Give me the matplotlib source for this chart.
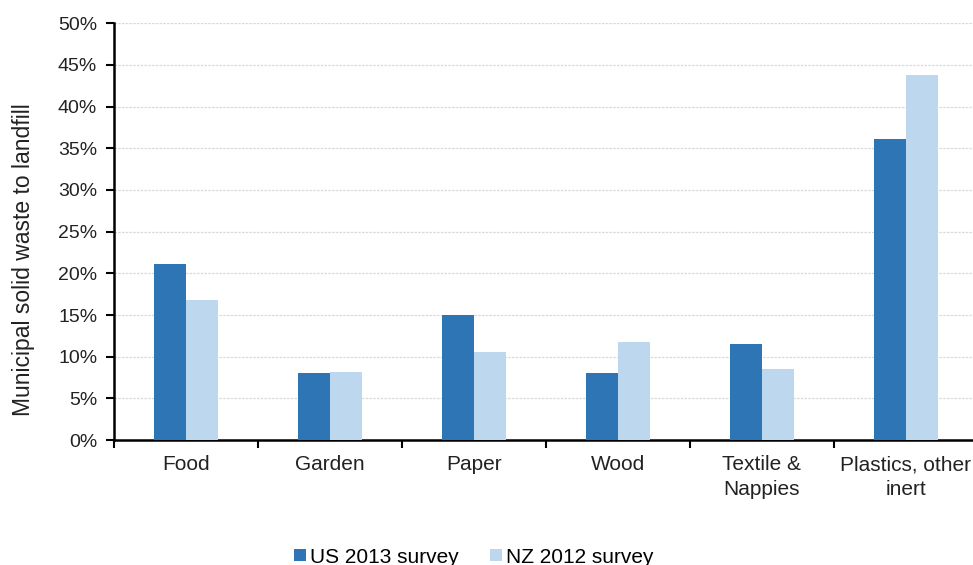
import numpy as np
import matplotlib.pyplot as plt
from matplotlib.ticker import FuncFormatter

plt.rcParams['font.family'] = ['Liberation Sans', 'DejaVu Sans']

categories = ["Food", "Garden", "Paper", "Wood", "Textile &\nNappies", "Plastics, other\ninert"]
us_2013 = [21.1, 8.1, 15.0, 8.0, 11.5, 36.1]
nz_2012 = [16.8, 8.2, 10.6, 11.8, 8.5, 43.8]

fig = plt.figure(figsize=(9.73, 5.65), dpi=100)
ax = fig.add_axes([0.117, 0.221, 0.888, 0.738])

x = np.arange(len(categories))
w = 0.22
ax.bar(x - w / 2, us_2013, w, color="#2E75B6", label="US 2013 survey", zorder=3)
ax.bar(x + w / 2, nz_2012, w, color="#BDD7EE", label="NZ 2012 survey", zorder=3)

ax.set_xlim(-0.5, len(categories) - 0.5)
ax.set_ylim(0, 50)
ax.set_yticks(np.arange(0, 51, 5))
ax.yaxis.set_major_formatter(FuncFormatter(lambda v, p: f"{v:.0f}%"))
ax.grid(axis="y", color="#d9d9d9", linestyle=(0, (2, 1)), linewidth=0.9, zorder=0)

# category ticks between groups, labels centred
ax.set_xticks(np.arange(-0.5, len(categories), 1.0))
ax.set_xticklabels([])
ax.set_xticks(x, minor=True)
ax.set_xticklabels(categories, minor=True, fontsize=15, color="#222222", linespacing=1.35)
ax.tick_params(axis="x", which="minor", length=0, pad=11)
ax.tick_params(axis="x", which="major", length=6, width=1.5, direction="out")
ax.tick_params(axis="y", length=6, width=1.5, labelsize=14, labelcolor="#222222", pad=6)

for s in ["top", "right"]:
    ax.spines[s].set_visible(False)
for s in ["left", "bottom"]:
    ax.spines[s].set_linewidth(1.8)

ax.set_ylabel("Municipal solid waste to landfill", fontsize=16.5, color="#222222")
ax.yaxis.set_label_coords(-0.091, 0.432)

fig.legend(loc="center", bbox_to_anchor=(0.487, 0.014), ncol=2, frameon=False,
           fontsize=15, handlelength=0.55, handleheight=0.55, handletextpad=0.2,
           columnspacing=1.5)

fig.savefig("out.png", dpi=100)
